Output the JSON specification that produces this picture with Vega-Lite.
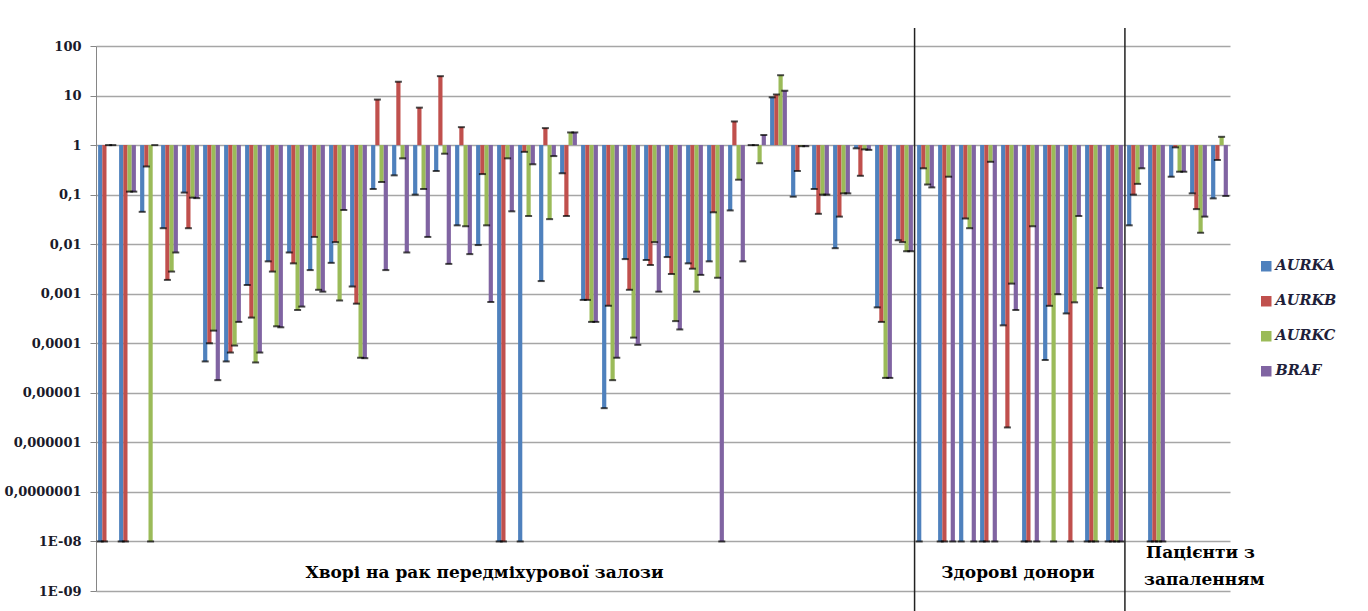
{
  "$schema": "https://vega.github.io/schema/vega-lite/v6.json",
  "width": 1134,
  "height": 545,
  "autosize": {"type": "none"},
  "padding": {"left": 96, "top": 46, "right": 138, "bottom": 20},
  "background": "white",
  "config": {"view": {"stroke": null}, "font": "DejaVu Serif"},
  "datasets": {
    "expr": [
      {"g":1,"AURKA":1e-8,"AURKB":1e-8,"AURKC":1,"BRAF":1},
      {"g":2,"AURKA":1e-8,"AURKB":1e-8,"AURKC":0.115,"BRAF":0.115},
      {"g":3,"AURKA":0.045,"AURKB":0.37,"AURKC":1e-8,"BRAF":1},
      {"g":4,"AURKA":0.021,"AURKB":0.0019,"AURKC":0.0028,"BRAF":0.0068},
      {"g":5,"AURKA":0.11,"AURKB":0.021,"AURKC":0.087,"BRAF":0.085},
      {"g":6,"AURKA":4.3e-5,"AURKB":1e-4,"AURKC":1.8e-4,"BRAF":1.8e-5},
      {"g":7,"AURKA":4.3e-5,"AURKB":6.5e-5,"AURKC":9e-5,"BRAF":2.7e-4},
      {"g":8,"AURKA":0.0015,"AURKB":3.3e-4,"AURKC":4.1e-5,"BRAF":6.5e-5},
      {"g":9,"AURKA":0.0045,"AURKB":0.0028,"AURKC":2.2e-4,"BRAF":2.1e-4},
      {"g":10,"AURKA":0.0068,"AURKB":0.0041,"AURKC":4.7e-4,"BRAF":5.5e-4},
      {"g":11,"AURKA":0.003,"AURKB":0.014,"AURKC":0.0012,"BRAF":0.0011},
      {"g":12,"AURKA":0.0042,"AURKB":0.011,"AURKC":7.3e-4,"BRAF":0.049},
      {"g":13,"AURKA":0.0014,"AURKB":6.3e-4,"AURKC":5.1e-5,"BRAF":5e-5},
      {"g":14,"AURKA":0.13,"AURKB":8.3,"AURKC":0.18,"BRAF":0.003},
      {"g":15,"AURKA":0.245,"AURKB":19,"AURKC":0.54,"BRAF":0.0068},
      {"g":16,"AURKA":0.1,"AURKB":5.7,"AURKC":0.13,"BRAF":0.014},
      {"g":17,"AURKA":0.3,"AURKB":24.6,"AURKC":0.67,"BRAF":0.004},
      {"g":18,"AURKA":0.024,"AURKB":2.3,"AURKC":0.023,"BRAF":0.0063},
      {"g":19,"AURKA":0.0096,"AURKB":0.26,"AURKC":0.024,"BRAF":6.8e-4},
      {"g":20,"AURKA":1e-8,"AURKB":1e-8,"AURKC":0.54,"BRAF":0.046},
      {"g":21,"AURKA":1e-8,"AURKB":0.73,"AURKC":0.037,"BRAF":0.41},
      {"g":22,"AURKA":0.0018,"AURKB":2.2,"AURKC":0.032,"BRAF":0.6},
      {"g":23,"AURKA":0.27,"AURKB":0.037,"AURKC":1.8,"BRAF":1.8},
      {"g":24,"AURKA":7.5e-4,"AURKB":7.5e-4,"AURKC":2.7e-4,"BRAF":2.7e-4},
      {"g":25,"AURKA":4.9e-6,"AURKB":5.7e-4,"AURKC":1.8e-5,"BRAF":5.1e-5},
      {"g":26,"AURKA":0.005,"AURKB":0.0012,"AURKC":1.3e-4,"BRAF":9.3e-5},
      {"g":27,"AURKA":0.0048,"AURKB":0.0038,"AURKC":0.011,"BRAF":0.0011},
      {"g":28,"AURKA":0.0055,"AURKB":0.0025,"AURKC":2.8e-4,"BRAF":1.9e-4},
      {"g":29,"AURKA":0.0041,"AURKB":0.0032,"AURKC":0.0011,"BRAF":0.0024},
      {"g":30,"AURKA":0.0045,"AURKB":0.044,"AURKC":0.0021,"BRAF":1e-8},
      {"g":31,"AURKA":0.048,"AURKB":3.0,"AURKC":0.2,"BRAF":0.0045},
      {"g":32,"AURKA":1,"AURKB":1,"AURKC":0.43,"BRAF":1.6},
      {"g":33,"AURKA":9.2,"AURKB":10.5,"AURKC":25.7,"BRAF":12.5},
      {"g":34,"AURKA":0.091,"AURKB":0.3,"AURKC":0.95,"BRAF":0.95},
      {"g":35,"AURKA":0.13,"AURKB":0.041,"AURKC":0.1,"BRAF":0.1},
      {"g":36,"AURKA":0.0083,"AURKB":0.036,"AURKC":0.106,"BRAF":0.106},
      {"g":37,"AURKA":0.86,"AURKB":0.24,"AURKC":0.82,"BRAF":0.8},
      {"g":38,"AURKA":5.3e-4,"AURKB":2.7e-4,"AURKC":2e-5,"BRAF":2e-5},
      {"g":39,"AURKA":0.012,"AURKB":0.011,"AURKC":0.0072,"BRAF":0.0072},
      {"g":40,"AURKA":1e-8,"AURKB":0.34,"AURKC":0.16,"BRAF":0.14},
      {"g":41,"AURKA":1e-8,"AURKB":1e-8,"AURKC":0.23,"BRAF":1e-8},
      {"g":42,"AURKA":1e-8,"AURKB":0.033,"AURKC":0.021,"BRAF":1e-8},
      {"g":43,"AURKA":1e-8,"AURKB":1e-8,"AURKC":0.46,"BRAF":1e-8},
      {"g":44,"AURKA":2.3e-4,"AURKB":2e-6,"AURKC":0.0016,"BRAF":4.7e-4},
      {"g":45,"AURKA":1e-8,"AURKB":1e-8,"AURKC":0.023,"BRAF":1e-8},
      {"g":46,"AURKA":4.6e-5,"AURKB":5.7e-4,"AURKC":1e-8,"BRAF":9.8e-4},
      {"g":47,"AURKA":4e-4,"AURKB":1e-8,"AURKC":6.7e-4,"BRAF":0.037},
      {"g":48,"AURKA":1e-8,"AURKB":1e-8,"AURKC":1e-8,"BRAF":0.0013},
      {"g":49,"AURKA":1e-8,"AURKB":1e-8,"AURKC":1e-8,"BRAF":1e-8},
      {"g":50,"AURKA":0.024,"AURKB":0.1,"AURKC":0.165,"BRAF":0.34},
      {"g":51,"AURKA":1e-8,"AURKB":1e-8,"AURKC":1e-8,"BRAF":1e-8},
      {"g":52,"AURKA":0.23,"AURKB":0.9,"AURKC":0.29,"BRAF":0.29},
      {"g":53,"AURKA":0.106,"AURKB":0.051,"AURKC":0.017,"BRAF":0.036},
      {"g":54,"AURKA":0.084,"AURKB":0.5,"AURKC":1.47,"BRAF":0.094}
    ]
  },
  "layer": [
    {
      "data": {"name": "expr"},
      "transform": [{"fold": ["AURKA", "AURKB", "AURKC", "BRAF"], "as": ["gene", "v"]}],
      "mark": {"type": "bar"},
      "encoding": {
        "x": {"field": "g", "type": "ordinal", "scale": {"paddingInner": 0.2, "paddingOuter": 0.1}, "axis": null},
        "xOffset": {"field": "gene", "type": "nominal", "scale": {"paddingInner": 0, "paddingOuter": 0}},
        "y": {
          "field": "v", "type": "quantitative",
          "scale": {"type": "log", "domain": [1e-9, 100]},
          "axis": {
            "title": null,
            "values": [1e-9, 1e-8, 1e-7, 1e-6, 1e-5, 1e-4, 1e-3, 1e-2, 1e-1, 1, 10, 100],
            "labelExpr": "['1E-09','1E-08','0,0000001','0,000001','0,00001','0,0001','0,001','0,01','0,1','1','10','100'][round(log(datum.value)/LN10)+9]",
            "grid": true, "gridColor": "#a6a6a6", "gridWidth": 1.5,
            "domainColor": "#868686", "tickColor": "#868686", "tickSize": 6,
            "labelFont": "DejaVu Serif", "labelFontWeight": "bold", "labelFontSize": 13,
            "labelColor": "#1a1a2a", "labelPadding": 9
          }
        },
        "y2": {"datum": 1},
        "color": {
          "field": "gene", "type": "nominal",
          "scale": {"domain": ["AURKA", "AURKB", "AURKC", "BRAF"], "range": ["#4F81BD", "#C0504D", "#9BBB59", "#8064A2"]},
          "legend": {
            "title": null, "orient": "none", "legendX": 1163, "legendY": 213,
            "symbolType": "square", "symbolSize": 110, "symbolStrokeWidth": 0,
            "labelFont": "DejaVu Serif", "labelFontStyle": "italic", "labelFontWeight": "bold",
            "labelFontSize": 14.5, "labelColor": "#1f1f3a", "rowPadding": 20, "labelOffset": 2
          }
        }
      }
    },
    {
      "data": {"name": "expr"},
      "transform": [{"fold": ["AURKA", "AURKB", "AURKC", "BRAF"], "as": ["gene", "v"]}],
      "mark": {"type": "tick", "color": "black", "thickness": 2, "size": 7, "orient": "horizontal"},
      "encoding": {
        "x": {"field": "g", "type": "ordinal"},
        "xOffset": {"field": "gene", "type": "nominal"},
        "y": {"field": "v", "type": "quantitative"}
      }
    },
    {
      "data": {"values": [{}]},
      "mark": {"type": "rule", "color": "#222222", "strokeWidth": 1.5},
      "encoding": {
        "x": {"datum": 39, "type": "ordinal", "bandPosition": 1.1},
        "y": {"datum": 231, "type": "quantitative"},
        "y2": {"datum": 3.97e-10}
      }
    },
    {
      "data": {"values": [{}]},
      "mark": {"type": "rule", "color": "#222222", "strokeWidth": 1.5},
      "encoding": {
        "x": {"datum": 49, "type": "ordinal", "bandPosition": 1.12},
        "y": {"datum": 231, "type": "quantitative"},
        "y2": {"datum": 3.97e-10}
      }
    },
    {
      "data": {"values": [{}]},
      "mark": {"type": "text", "font": "DejaVu Serif", "fontWeight": "bold", "fontSize": 17, "color": "black", "baseline": "middle", "align": "center"},
      "encoding": {
        "x": {"datum": 19, "type": "ordinal", "bandPosition": 0.5},
        "y": {"datum": 2.31e-9, "type": "quantitative"},
        "text": {"value": "Хворі на рак передміхурової залози"}
      }
    },
    {
      "data": {"values": [{}]},
      "mark": {"type": "text", "font": "DejaVu Serif", "fontWeight": "bold", "fontSize": 17, "color": "black", "baseline": "middle", "align": "center"},
      "encoding": {
        "x": {"datum": 44, "type": "ordinal", "bandPosition": 1.0},
        "y": {"datum": 2.31e-9, "type": "quantitative"},
        "text": {"value": "Здорові донори"}
      }
    },
    {
      "data": {"values": [{}]},
      "mark": {"type": "text", "font": "DejaVu Serif", "fontWeight": "bold", "fontSize": 17, "color": "black", "baseline": "middle", "align": "left", "dx": -2},
      "encoding": {
        "x": {"datum": 51, "type": "ordinal", "bandPosition": 0},
        "y": {"datum": 5.86e-9, "type": "quantitative"},
        "text": {"value": "Пацієнти з"}
      }
    },
    {
      "data": {"values": [{}]},
      "mark": {"type": "text", "font": "DejaVu Serif", "fontWeight": "bold", "fontSize": 17, "color": "black", "baseline": "middle", "align": "left", "dx": -4},
      "encoding": {
        "x": {"datum": 51, "type": "ordinal", "bandPosition": 0},
        "y": {"datum": 1.67e-9, "type": "quantitative"},
        "text": {"value": "запаленням"}
      }
    }
  ]
}
